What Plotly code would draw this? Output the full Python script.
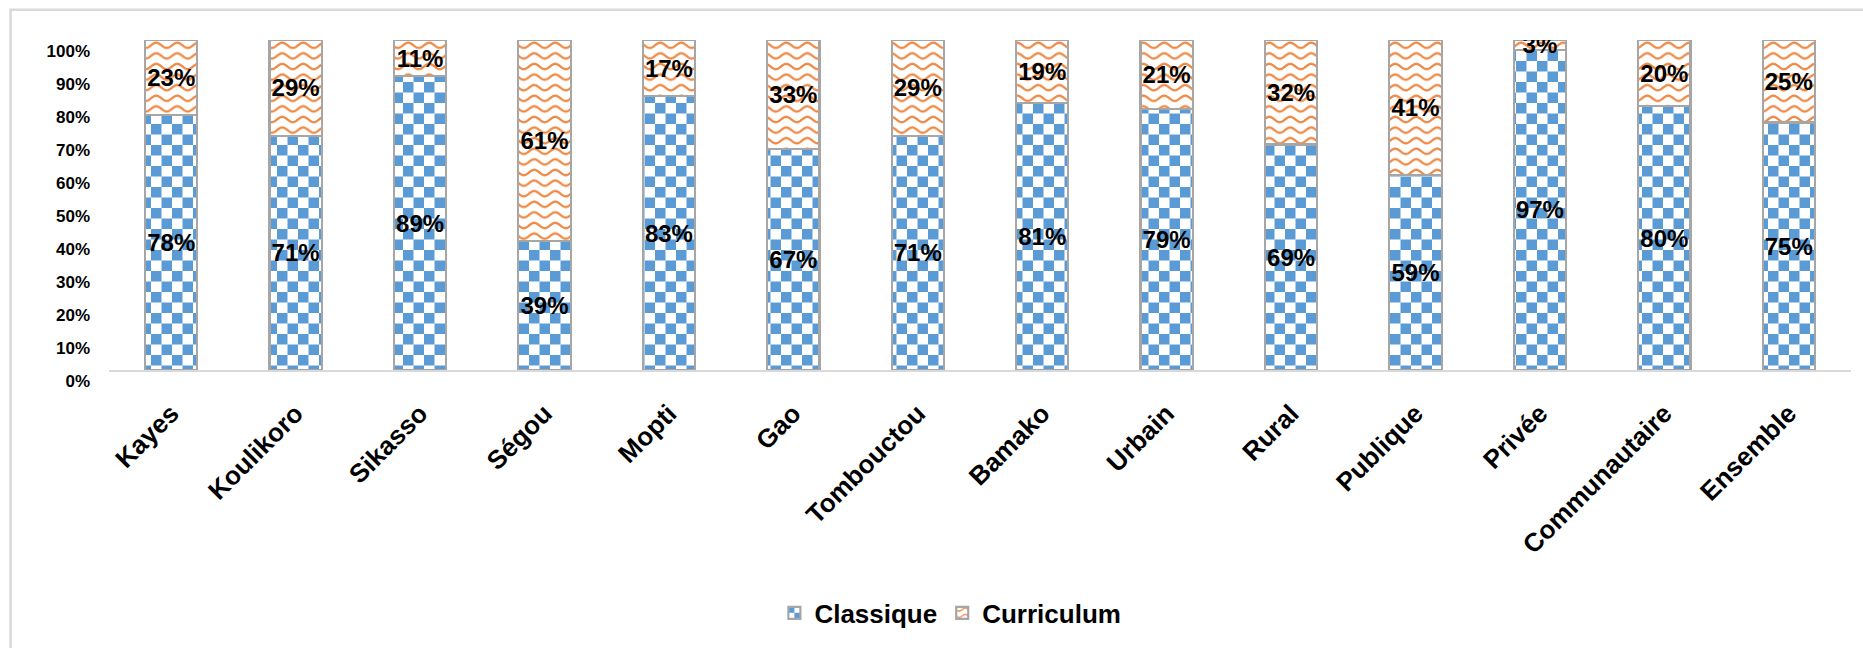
import plotly.graph_objects as go

categories = ["Kayes", "Koulikoro", "Sikasso", "Ségou", "Mopti", "Gao", "Tombouctou",
              "Bamako", "Urbain", "Rural", "Publique", "Privée", "Communautaire", "Ensemble"]
classique = [78, 71, 89, 39, 83, 67, 71, 81, 79, 69, 59, 97, 80, 75]
curriculum = [23, 29, 11, 61, 17, 33, 29, 19, 21, 32, 41, 3, 20, 25]
y_ticks = list(range(0, 101, 10))

BLUE = "#5B9BD5"
ORANGE = "#ED7D31"
OUTLINE = "#A6A6A6"
FONT = "Liberation Sans, Arial, sans-serif"

fig = go.Figure()
for name, vals, col in [("Classique", classique, BLUE), ("Curriculum", curriculum, ORANGE)]:
    fig.add_trace(go.Bar(
        name=name,
        x=categories,
        y=vals,
        text=[f"{v}%" for v in vals],
        textposition="inside",
        insidetextanchor="middle",
        textangle=0,
        constraintext="none",
        textfont=dict(family=FONT, size=24, color="black", weight="bold"),
        marker=dict(
            color="white",
            line=dict(color=OUTLINE, width=2.2),
            pattern=dict(shape="/", fgcolor=col, bgcolor="white", size=12, solidity=0.3),
        ),
    ))

fig.update_layout(
    width=1863,
    height=648,
    barmode="stack",
    barnorm="percent",
    bargap=0.58,
    plot_bgcolor="white",
    paper_bgcolor="white",
    margin=dict(l=109, r=12, t=40, b=275),
    font=dict(family=FONT, color="black"),
    showlegend=True,
    legend=dict(
        orientation="h",
        x=0.483, xanchor="center",
        y=-0.736, yanchor="middle",
        font=dict(family=FONT, size=26, color="black", weight="bold"),
        traceorder="normal",
    ),
    xaxis=dict(
        tickangle=-45,
        tickfont=dict(family=FONT, size=26, color="black", weight="bold"),
        showline=True, linecolor="#D9D9D9", linewidth=2,
        showgrid=False, ticks="",
        ticklabelstandoff=16,
    ),
    yaxis=dict(
        range=[0, 100],
        tickvals=y_ticks,
        ticktext=[f"{t}%" for t in y_ticks],
        tickfont=dict(family=FONT, size=17, color="black", weight="bold"),
        showgrid=False, zeroline=False, showline=False, ticks="",
        ticklabelshift=11,
        ticklabelstandoff=18,
    ),
    shapes=[dict(
        type="rect", xref="paper", yref="paper",
        x0=-0.0565, x1=1.1, y0=-2.0, y1=1.092,
        line=dict(color="#D9D9D9", width=2.5),
        fillcolor="rgba(0,0,0,0)", layer="below",
    )],
)

# Swap the built-in hatch tiles for a checkerboard (Classique) and a wave (Curriculum).
post_js = """
var gd = document.getElementById('{plot_id}');
var NS = 'http://www.w3.org/2000/svg';
function mk(tag, attrs) {
  var e = document.createElementNS(NS, tag);
  for (var k in attrs) e.setAttribute(k, attrs[k]);
  return e;
}
function restylePatterns() {
  var pats = gd.querySelectorAll('pattern');
  pats.forEach(function(p) {
    if (p.getAttribute('data-custom')) return;
    var child = p.querySelector('path');
    if (!child) return;
    var col = (child.getAttribute('stroke') || '') + (child.getAttribute('fill') || '') +
              (child.style.stroke || '') + (child.style.fill || '');
    var isLegend = (p.getAttribute('patternTransform') || '').indexOf('scale') >= 0;
    var kind = col.indexOf('155') >= 0 ? 'checker' : (col.indexOf('125') >= 0 ? 'wave' : null);
    if (!kind) return;
    while (p.firstChild) p.removeChild(p.firstChild);
    if (kind === 'checker') {
      var s = 10.5;
      p.setAttribute('width', 2 * s);
      p.setAttribute('height', 2 * s);
      p.appendChild(mk('rect', {x: 0, y: 0, width: 2 * s, height: 2 * s, fill: '#FFFFFF'}));
      p.appendChild(mk('rect', {x: 0, y: 0, width: s, height: s, fill: '#5B9BD5'}));
      p.appendChild(mk('rect', {x: s, y: s, width: s, height: s, fill: '#5B9BD5'}));
      if (isLegend) p.setAttribute('patternTransform', 'scale(0.57)');
    } else {
      var w = 21, h = 10.6, a = 2.6, c = h / 2;
      p.setAttribute('width', w);
      p.setAttribute('height', h);
      p.appendChild(mk('rect', {x: 0, y: 0, width: w, height: h, fill: '#FFFFFF'}));
      var d = '';
      for (var i = -2; i <= 2 * w + 2; i++) {
        var x = i / 2;
        var y = c - a * Math.sin(2 * Math.PI * x / w);
        d += (i === -2 ? 'M' : 'L') + x.toFixed(2) + ',' + y.toFixed(2);
      }
      p.appendChild(mk('path', {d: d, fill: 'none', stroke: '#EE8A46', 'stroke-width': 2.3}));
      if (isLegend) p.setAttribute('patternTransform', 'scale(0.6)');
    }
    p.setAttribute('data-custom', '1');
  });
}
restylePatterns();
gd.on('plotly_afterplot', restylePatterns);
"""

fig.write_html("out.html", post_script=post_js)
